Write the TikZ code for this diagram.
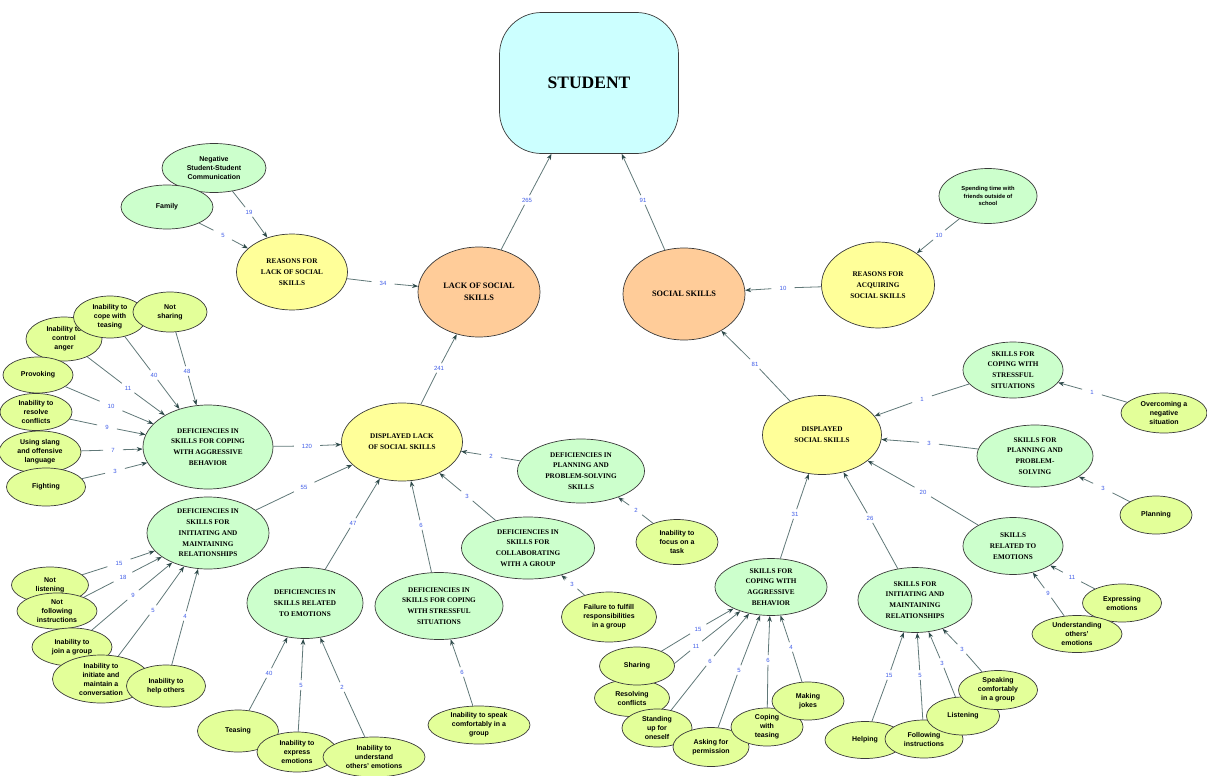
\documentclass[tikz,border=0pt]{standalone}
\usepackage{fontspec}
\setmainfont{Liberation Serif}
\setsansfont{Liberation Sans}
\usetikzlibrary{shapes.geometric,arrows.meta,backgrounds}

\definecolor{cStudent}{HTML}{CCFFFF}
\definecolor{cOrange}{HTML}{FFCC99}
\definecolor{cYellow}{HTML}{FFFF99}
\definecolor{cGreen}{HTML}{CCFFCC}
\definecolor{cLime}{HTML}{E3FF99}
\definecolor{cBorder}{HTML}{3A3A3A}
\definecolor{cLine}{HTML}{607878}
\definecolor{cArrow}{HTML}{2E4A4A}
\definecolor{cCount}{HTML}{3D5AE6}

% concept-map connector: source -- count label -> target
\newcommand\conn[4]{%
  \node[cnt] (#1-#2) at (#4) {#3};
  \draw[link] (#1) -- (#1-#2);
  \draw[arr] (#1-#2) -- (#2);
}

\tikzset{
  concept/.style={ellipse, draw=cBorder, line width=0.7pt, inner sep=0pt, align=center},
  sz/.style 2 args={minimum width=#1pt, minimum height=#2pt},
  headbox/.style={concept, fill=cOrange, font=\bfseries\fontsize{8.3}{12}\selectfont},
  groupbox/.style={concept, fill=cYellow, font=\bfseries\fontsize{7.2}{10.8}\selectfont},
  skillbox/.style={concept, fill=cGreen, font=\bfseries\fontsize{7.2}{10.8}\selectfont},
  leaf/.style={concept, fill=cLime, font=\sffamily\bfseries\fontsize{7}{9}\selectfont},
  gleaf/.style={leaf, fill=cGreen},
  cnt/.style={rectangle, inner xsep=8pt, inner ysep=2.5pt,
    font=\sffamily\fontsize{6}{7}\selectfont, text=cCount},
  link/.style={draw=cLine, line width=0.8pt},
  arr/.style={link, -{Stealth[length=6pt,width=4.5pt,color=cArrow]}},
}

\begin{document}
\begin{tikzpicture}[x=1pt, y=-1pt]
\useasboundingbox (0,0) rectangle (1207,776);

% root
\node[draw=cBorder, line width=0.7pt, fill=cStudent, rounded corners=42pt,
  minimum width=179pt, minimum height=141pt, inner sep=0pt,
  font=\bfseries\fontsize{17.5}{20}\selectfont] (student) at (589,83) {STUDENT};

% first level
\node[headbox, sz={122}{90}] (lack) at (479,292) {LACK OF SOCIAL\\SKILLS};
\node[headbox, sz={122}{92}] (social) at (684,294) {SOCIAL SKILLS};

% reasons
\node[groupbox, sz={111}{76}] (reasonsLack) at (292,272) {REASONS FOR\\LACK OF SOCIAL\\SKILLS};
\node[gleaf, sz={104}{49}] (negComm) at (214,168) {Negative\\Student-Student\\Communication};
\node[gleaf, sz={92}{44}] (family) at (167,207) {Family};
\node[groupbox, sz={113}{86}] (reasonsAcq) at (878,285) {REASONS FOR\\ACQUIRING\\SOCIAL SKILLS};
\node[gleaf, sz={98}{55}, font=\sffamily\bfseries\fontsize{5.8}{7.5}\selectfont] (spending) at (988,196)
  {Spending time with\\friends outside of\\school};

% displayed lack of social skills
\node[groupbox, sz={121}{78}] (dispLack) at (402,442) {DISPLAYED LACK\\OF SOCIAL SKILLS};

\node[skillbox, sz={130}{84}] (defAggr) at (208,447) {DEFICIENCIES IN\\SKILLS FOR COPING\\WITH AGGRESSIVE\\BEHAVIOR};
\node[leaf, sz={76}{44}] (anger) at (64,339) {Inability to\\control\\anger};
\node[leaf, sz={73}{42}] (copeTease) at (110,317) {Inability to\\cope with\\teasing};
\node[leaf, sz={74}{40}] (notShare) at (170,312) {Not\\sharing};
\node[leaf, sz={70}{36}] (provoke) at (38,375) {Provoking};
\node[leaf, sz={72}{37}] (resolveC) at (36,412) {Inability to\\resolve\\conflicts};
\node[leaf, sz={82}{42}] (slang) at (40,452) {Using slang\\and offensive\\language};
\node[leaf, sz={79}{38}] (fight) at (46,487) {Fighting};

\node[skillbox, sz={122}{72}] (defInit) at (208,533) {DEFICIENCIES IN\\SKILLS FOR\\INITIATING AND\\MAINTAINING\\RELATIONSHIPS};
\node[leaf, sz={77}{36}] (notListen) at (50,585) {Not\\listening};
\node[leaf, sz={80}{36}] (notFollow) at (57,611) {Not\\following\\instructions};
\node[leaf, sz={80}{38}] (joinGrp) at (72,647) {Inability to\\join a group};
\node[leaf, sz={97}{48}] (initConv) at (101,679) {Inability to\\initiate and\\maintain a\\conversation};
\node[leaf, sz={79}{42}] (helpOth) at (166,686) {Inability to\\help others};

\node[skillbox, sz={116}{71}] (defEmo) at (305,603) {DEFICIENCIES IN\\SKILLS RELATED\\TO EMOTIONS};
\node[leaf, sz={81}{42}] (teasing) at (238,731) {Teasing};
\node[leaf, sz={80}{40}] (expEmo) at (297,752) {Inability to\\express\\emotions};
\node[leaf, sz={102}{40}] (undEmo) at (374,757) {Inability to\\understand\\others' emotions};

\node[skillbox, sz={128}{67}] (defStress) at (439,606) {DEFICIENCIES IN\\SKILLS FOR COPING\\WITH STRESSFUL\\SITUATIONS};
\node[leaf, sz={102}{38}] (speakGrp) at (479,725) {Inability to speak\\comfortably in a\\group};

\node[skillbox, sz={133}{62}] (defCollab) at (528,548) {DEFICIENCIES IN\\SKILLS FOR\\COLLABORATING\\WITH A GROUP};
\node[leaf, sz={95}{50}] (failure) at (609,617) {Failure to fulfill\\responsibilities\\in a group};

\node[skillbox, sz={127}{64}] (defPlan) at (581,471) {DEFICIENCIES IN\\PLANNING AND\\PROBLEM-SOLVING\\SKILLS};
\node[leaf, sz={82}{45}] (focus) at (677,542) {Inability to\\focus on a\\task};

% displayed social skills
\node[groupbox, sz={119}{79}] (dispSoc) at (822,435) {DISPLAYED\\SOCIAL SKILLS};

\node[skillbox, sz={100}{56}] (sStress) at (1013,370) {SKILLS FOR\\COPING WITH\\STRESSFUL\\SITUATIONS};
\node[leaf, sz={86}{40}] (overcome) at (1164,413) {Overcoming a\\negative\\situation};

\node[skillbox, sz={116}{62}] (sPlan) at (1035,456) {SKILLS FOR\\PLANNING AND\\PROBLEM-\\SOLVING};
\node[leaf, sz={72}{38}] (planning) at (1156,515) {Planning};

\node[skillbox, sz={100}{57}] (sEmo) at (1013,546) {SKILLS\\RELATED TO\\EMOTIONS};
\node[leaf, sz={79}{38}] (expressing) at (1122,603) {Expressing\\emotions};
\node[leaf, sz={90}{37}] (understanding) at (1077,634) {Understanding\\others'\\emotions};

\node[skillbox, sz={112}{57}] (sAggr) at (771,587) {SKILLS FOR\\COPING WITH\\AGGRESSIVE\\BEHAVIOR};
\node[leaf, sz={75}{37}] (resolving) at (632,698) {Resolving\\conflicts};
\node[leaf, sz={75}{38}] (sharing) at (637,666) {Sharing};
\node[leaf, sz={70}{38}] (standing) at (657,728) {Standing\\up for\\oneself};
\node[leaf, sz={76}{39}] (asking) at (711,747) {Asking for\\permission};
\node[leaf, sz={72}{38}] (copingT) at (767,727) {Coping\\with\\teasing};
\node[leaf, sz={72}{38}] (jokes) at (808,701) {Making\\jokes};

\node[skillbox, sz={114}{65}] (sInit) at (915,600) {SKILLS FOR\\INITIATING AND\\MAINTAINING\\RELATIONSHIPS};
\node[leaf, sz={80}{37}] (helping) at (865,740) {Helping};
\node[leaf, sz={78}{38}] (following) at (924,739) {Following\\instructions};
\node[leaf, sz={73}{38}] (listening) at (963,716) {Listening};
\node[leaf, sz={79}{39}] (speaking) at (998,690) {Speaking\\comfortably\\in a group};

% connectors with counts
\begin{pgfonlayer}{background}
\conn{lack}{student}{265}{527,200}
\conn{social}{student}{91}{643,200}
\conn{reasonsLack}{lack}{34}{383,283}
\conn{family}{reasonsLack}{5}{223,235}
\conn{negComm}{reasonsLack}{19}{249,212}
\conn{reasonsAcq}{social}{10}{783,288}
\conn{spending}{reasonsAcq}{10}{939,235}
\conn{dispLack}{lack}{241}{439,368}

\conn{defAggr}{dispLack}{120}{307,446}
\conn{notShare}{defAggr}{48}{187,371}
\conn{copeTease}{defAggr}{40}{154,375}
\conn{anger}{defAggr}{11}{128,388}
\conn{provoke}{defAggr}{10}{111,406}
\conn{resolveC}{defAggr}{9}{107,427}
\conn{slang}{defAggr}{7}{113,450}
\conn{fight}{defAggr}{3}{115,471}

\conn{defInit}{dispLack}{55}{304,487}
\conn{notListen}{defInit}{15}{119,563}
\conn{notFollow}{defInit}{18}{123,577}
\conn{joinGrp}{defInit}{9}{133,595}
\conn{initConv}{defInit}{5}{153,610}
\conn{helpOth}{defInit}{4}{185,616}

\conn{defEmo}{dispLack}{47}{353,523}
\conn{teasing}{defEmo}{40}{269,673}
\conn{expEmo}{defEmo}{5}{301,685}
\conn{undEmo}{defEmo}{2}{342,687}

\conn{defStress}{dispLack}{6}{421,525}
\conn{speakGrp}{defStress}{6}{462,672}

\conn{defCollab}{dispLack}{3}{467,496}
\conn{failure}{defCollab}{3}{572,584}

\conn{defPlan}{dispLack}{2}{491,456}
\conn{focus}{defPlan}{2}{636,510}

\conn{dispSoc}{social}{81}{755,364}
\conn{sStress}{dispSoc}{1}{922,399}
\conn{overcome}{sStress}{1}{1092,392}
\conn{sPlan}{dispSoc}{3}{929,443}
\conn{planning}{sPlan}{3}{1103,488}
\conn{sEmo}{dispSoc}{20}{923,492}
\conn{expressing}{sEmo}{11}{1072,577}
\conn{understanding}{sEmo}{9}{1048,593}

\conn{sAggr}{dispSoc}{31}{795,514}
\conn{sharing}{sAggr}{15}{698,629}
\conn{resolving}{sAggr}{11}{696,646}
\conn{standing}{sAggr}{6}{710,661}
\conn{asking}{sAggr}{5}{739,670}
\conn{copingT}{sAggr}{6}{768,660}
\conn{jokes}{sAggr}{4}{791,647}

\conn{sInit}{dispSoc}{26}{870,518}
\conn{helping}{sInit}{15}{889,675}
\conn{following}{sInit}{5}{920,675}
\conn{listening}{sInit}{3}{942,663}
\conn{speaking}{sInit}{3}{962,649}
\end{pgfonlayer}
\end{tikzpicture}
\end{document}
